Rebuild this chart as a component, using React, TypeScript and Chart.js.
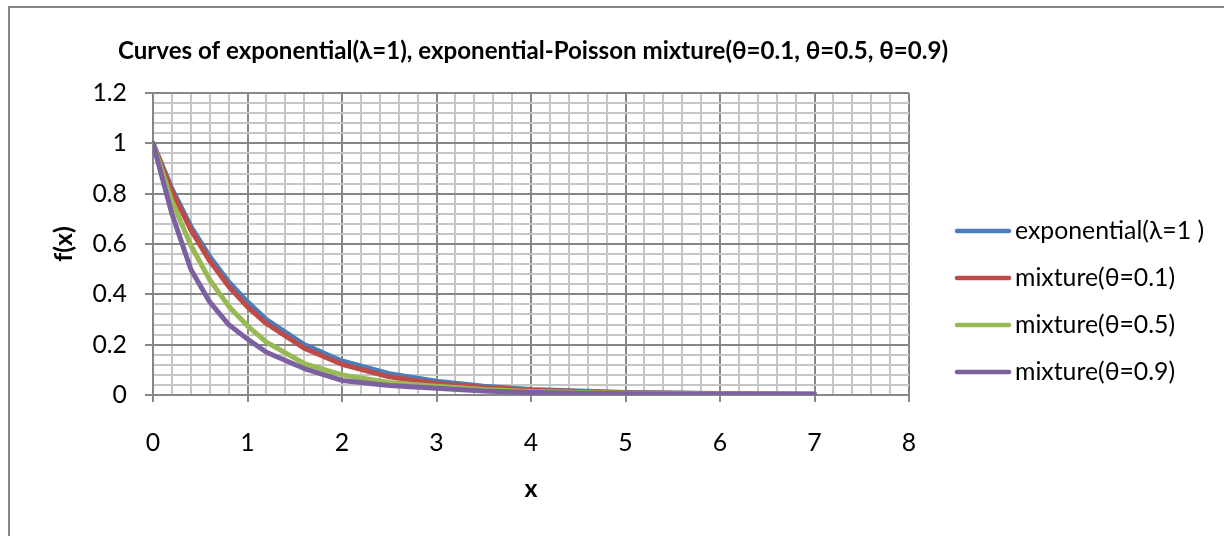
import React, { useEffect, useRef } from 'react';
import { Chart, registerables } from 'chart.js';

Chart.register(...registerables);

const TITLE = 'Curves of exponential(λ=1), exponential-Poisson mixture(θ=0.1, θ=0.5, θ=0.9)';
const X_TITLE = 'x';
const Y_TITLE = 'f(x)';

const xValues = [0, 0.2, 0.4, 0.6, 0.8, 1, 1.2, 1.6, 2, 2.5, 3, 3.5, 4, 5, 6, 7];
const exponential = [1, 0.82, 0.67, 0.55, 0.45, 0.37, 0.3, 0.2, 0.135, 0.085, 0.055, 0.035, 0.022, 0.01, 0.006, 0.004];
const mixture01 = [1, 0.81, 0.657, 0.533, 0.432, 0.35, 0.284, 0.186, 0.122, 0.072, 0.046, 0.03, 0.019, 0.009, 0.005, 0.003];
const mixture05 = [1, 0.77, 0.595, 0.458, 0.353, 0.275, 0.21, 0.125, 0.08, 0.05, 0.035, 0.022, 0.014, 0.007, 0.004, 0.003];
const mixture09 = [1, 0.72, 0.5, 0.37, 0.28, 0.222, 0.17, 0.105, 0.058, 0.038, 0.027, 0.016, 0.01, 0.005, 0.003, 0.002];

const seriesNames = ['exponential(λ=1 )', 'mixture(θ=0.1)', 'mixture(θ=0.5)', 'mixture(θ=0.9)'];
const seriesValues = [exponential, mixture01, mixture05, mixture09];
const seriesColors = ['#4A7EBB', '#BE4B48', '#98B954', '#7D60A0'];

const X_MIN = 0;
const X_MAX = 8;
const X_MAJOR = 1;
const X_MINOR = 0.2;
const Y_MIN = 0;
const Y_MAX = 1.2;
const Y_MAJOR = 0.2;
const Y_MINOR = 0.04;

const FAMILY = 'Lato, "Open Sans", "DejaVu Sans", sans-serif';
const MAJOR_COLOR = '#878787';
const MINOR_COLOR = '#c6c6c6';

const W = 1224;
const H = 536;
const AREA = { left: 153, right: 909, top: 93, bottom: 395 };

function isMajor(v: number | undefined, step: number) {
  if (v === undefined || v === null) return false;
  const r = v / step;
  return Math.abs(r - Math.round(r)) < 1e-6;
}

export default function App() {
  const ref = useRef<HTMLCanvasElement>(null);

  useEffect(() => {
    document.body.style.margin = '0';
    const canvas = ref.current;
    if (!canvas) return;

    const meas = document.createElement('canvas').getContext('2d')!;
    meas.font = `100px ${FAMILY}`;
    const baseSize = Math.round((100 * 160) / meas.measureText('mixture(θ=0.1)').width * 10) / 10;
    meas.font = `bold 100px ${FAMILY}`;
    const titleSize = Math.round((100 * 832) / meas.measureText(TITLE).width * 10) / 10;

    const decor = {
      id: 'decor',
      beforeDraw(chart: any) {
        const ctx = chart.ctx as CanvasRenderingContext2D;
        ctx.save();
        ctx.fillStyle = '#ffffff';
        ctx.fillRect(0, 0, W, H);
        ctx.strokeStyle = MAJOR_COLOR;
        ctx.lineWidth = 2;
        ctx.beginPath();
        ctx.moveTo(9, H + 2);
        ctx.lineTo(9, 7);
        ctx.lineTo(W + 2, 7);
        ctx.stroke();
        ctx.restore();
      },
      afterDraw(chart: any) {
        const ctx = chart.ctx as CanvasRenderingContext2D;
        ctx.save();
        ctx.fillStyle = '#000';
        ctx.textBaseline = 'middle';
        ctx.textAlign = 'left';
        ctx.font = `bold ${titleSize}px ${FAMILY}`;
        ctx.fillText(TITLE, 118, 51);

        ctx.font = `${baseSize}px ${FAMILY}`;
        seriesNames.forEach((name, i) => {
          const y = 231 + i * 47;
          ctx.strokeStyle = seriesColors[i];
          ctx.lineWidth = 4.5;
          ctx.lineCap = 'round';
          ctx.beginPath();
          ctx.moveTo(957, y);
          ctx.lineTo(1009, y);
          ctx.stroke();
          ctx.fillStyle = '#000';
          ctx.fillText(name, 1015, y);
        });
        ctx.restore();
      },
    };

    const datasets = seriesNames.map((name, i) => ({
      label: name,
      data: xValues.map((x, j) => ({ x, y: seriesValues[i][j] })),
      borderColor: seriesColors[i],
      backgroundColor: seriesColors[i],
      borderWidth: 5,
      borderJoinStyle: 'round' as const,
      borderCapStyle: 'round' as const,
      pointRadius: 0,
      tension: 0,
      fill: false,
      order: seriesNames.length - i,
    }));

    const chart = new Chart(canvas, {
      type: 'line',
      data: { datasets },
      plugins: [decor],
      options: {
        animation: false,
        responsive: false,
        devicePixelRatio: 1,
        layout: { padding: { left: 0, top: AREA.top, right: W - AREA.right, bottom: 0 } },
        plugins: {
          legend: { display: false },
          title: { display: false },
          tooltip: { enabled: false },
        },
        scales: {
          x: {
            type: 'linear',
            min: X_MIN,
            max: X_MAX,
            afterFit: (scale: any) => {
              scale.height = H - AREA.bottom;
            },
            ticks: {
              stepSize: X_MINOR,
              autoSkip: false,
              maxRotation: 0,
              padding: 26,
              color: '#000',
              font: { family: FAMILY, size: baseSize },
              callback: (v: any) => (isMajor(Number(v), X_MAJOR) ? String(Math.round(Number(v))) : ''),
            },
            grid: {
              color: (c: any) => (isMajor(c.tick?.value, X_MAJOR) ? MAJOR_COLOR : MINOR_COLOR),
              tickColor: (c: any) => (isMajor(c.tick?.value, X_MAJOR) ? MAJOR_COLOR : 'rgba(0,0,0,0)'),
              lineWidth: 2,
              tickLength: 7,
            },
            border: { color: MAJOR_COLOR, width: 2 },
            title: {
              display: true,
              text: X_TITLE,
              color: '#000',
              font: { family: FAMILY, size: baseSize, weight: 'bold' },
              padding: { top: 0, bottom: 32 },
            },
          },
          y: {
            type: 'linear',
            min: Y_MIN,
            max: Y_MAX,
            afterFit: (scale: any) => {
              scale.width = AREA.left;
            },
            ticks: {
              stepSize: Y_MINOR,
              autoSkip: false,
              padding: 18,
              color: '#000',
              font: { family: FAMILY, size: baseSize },
              callback: (v: any) =>
                isMajor(Number(v), Y_MAJOR) ? String(Math.round(Number(v) * 10) / 10) : '',
            },
            grid: {
              color: (c: any) => (isMajor(c.tick?.value, Y_MAJOR) ? MAJOR_COLOR : MINOR_COLOR),
              tickColor: (c: any) => (isMajor(c.tick?.value, Y_MAJOR) ? MAJOR_COLOR : 'rgba(0,0,0,0)'),
              lineWidth: 2,
              tickLength: 8,
            },
            border: { color: MAJOR_COLOR, width: 2 },
            title: {
              display: true,
              text: Y_TITLE,
              color: '#000',
              font: { family: FAMILY, size: baseSize, weight: 'bold' },
              padding: { top: 49, bottom: 0 },
            },
          },
        },
      },
    });

    return () => chart.destroy();
  }, []);

  return <canvas ref={ref} width={W} height={H} style={{ display: 'block' }} />;
}
